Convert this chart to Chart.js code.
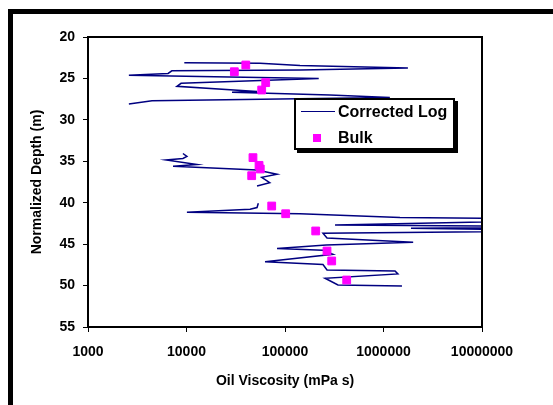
<!DOCTYPE html>
<html><head><meta charset="utf-8">
<script src="https://cdn.jsdelivr.net/npm/chart.js@4.4.1/dist/chart.umd.min.js"></script>
<style>
html,body{margin:0;padding:0;background:#fff;}
#wrap{position:relative;width:553px;height:405px;overflow:hidden;}
#c{position:absolute;left:0;top:0;}
#legend{position:absolute;left:294px;top:98px;width:161px;height:52px;box-sizing:border-box;border:2px solid #000;box-shadow:3px 3px 0 #000;background:#fff;font:bold 16px "Liberation Sans", Arial, sans-serif;color:#000;}
.lg-item{position:absolute;left:0;right:0;height:20px;}
.lg-sym{position:absolute;}
.lg-text{position:absolute;left:42px;top:0;line-height:20px;white-space:nowrap;}
</style></head>
<body>
<div id="wrap">
<canvas id="c" width="553" height="405"></canvas>
<div id="legend"></div>
</div>
<script>
// ---- Data ----
const xTicks = [1000, 10000, 100000, 1000000, 10000000];
const yTicks = [20, 25, 30, 35, 40, 45, 50, 55];

const bulkVisc  = [40000, 30600, 63700, 58000, 47300, 54500, 56100, 45900, 73300, 101600, 205000, 267000, 298000, 423000];
const bulkDepth = [23.38, 24.19, 25.51, 26.40, 34.56, 35.49, 35.93, 36.74, 40.40, 41.33, 43.41, 45.83, 47.03, 49.33];

const logVisc = [
  9500, 55700, 142000, 1770000, 142000, 7100, 6500, 2600, 13700, 220000, 8800, 8000, 52000, 29000, 286000, 1160000, 4470, 2600,
  null,
  9200, 10100, 9200, 6200, 12800, 7300, 52000, 83000, 58000, 70000, 52000,
  null,
  53600, 52000, 44200, 10100, 142000, 1470000, 150000000, 322000, 150000000, 1900000, 150000000, 243000, 267000, 2000000, 262000, 83000, 243000, 307000, 62700, 243000, 267000, 1310000, 1400000, 255000, 345000, 1540000
];
const logDepth = [
  23.10, 23.17, 23.44, 23.74, 23.98, 24.08, 24.40, 24.61, 24.77, 25.01, 25.59, 25.95, 26.58, 26.67, 27.00, 27.30, 27.69, 28.09,
  null,
  34.06, 34.42, 34.66, 34.84, 35.39, 35.60, 36.05, 36.57, 36.93, 37.58, 37.98,
  null,
  40.07, 40.58, 40.80, 41.16, 41.34, 41.78, 42.02, 42.69, 42.93, 43.09, 43.35, 43.69, 44.26, 44.78, 45.10, 45.53, 45.74, 46.22, 47.12, 47.46, 48.12, 48.24, 48.60, 49.12, 49.93, 50.05
];

const seriesNames = ['Corrected Log', 'Bulk'];
const logColor = '#000080';
const bulkColor = '#ff00ff';
const FONT = '"Liberation Sans", Arial, sans-serif';

const framePlugin = {
  id: 'frame',
  beforeDraw(chart) {
    const c = chart.ctx;
    c.save();
    c.fillStyle = '#fff';
    c.fillRect(0, 0, chart.width, chart.height);
    c.fillStyle = '#000';
    c.fillRect(8, 9, 5, chart.height - 9);
    c.fillRect(8, 9, chart.width - 8, 5);
    c.restore();
  },
  afterDatasetsDraw(chart) {
    const a = chart.chartArea, c = chart.ctx;
    c.save();
    c.strokeStyle = '#000';
    c.lineWidth = 2;
    c.strokeRect(a.left, a.top, a.right - a.left, a.bottom - a.top);
    c.restore();
  }
};

const chart = new Chart(document.getElementById('c'), {
  type: 'scatter',
  data: {
    datasets: [
      {
        label: seriesNames[0],
        data: logVisc.map((v, i) => ({ x: v, y: logDepth[i] })),
        showLine: true,
        borderColor: logColor,
        borderWidth: 1.5,
        pointRadius: 0,
        pointHoverRadius: 0,
        tension: 0,
        spanGaps: false,
        order: 2
      },
      {
        label: seriesNames[1],
        data: bulkVisc.map((v, i) => ({ x: v, y: bulkDepth[i] })),
        showLine: false,
        pointStyle: 'rect',
        pointRadius: 5.5,
        backgroundColor: bulkColor,
        borderColor: bulkColor,
        borderWidth: 1,
        order: 1
      }
    ]
  },
  options: {
    responsive: false,
    devicePixelRatio: 1,
    animation: false,
    events: [],
    layout: { padding: { left: 14, top: 37, right: 71, bottom: 10 } },
    plugins: { legend: { display: false }, tooltip: { enabled: false } },
    scales: {
      x: {
        type: 'logarithmic',
        min: 1000, max: 10000000,
        afterBuildTicks: s => { s.ticks = xTicks.map(v => ({ value: v })); },
        afterFit: s => { s.height = 68; },
        border: { display: false },
        grid: { drawOnChartArea: false, drawTicks: true, tickLength: 5, color: '#000', lineWidth: 1 },
        ticks: { color: '#000', font: { family: FONT, size: 14, weight: 'bold' }, padding: 12, maxRotation: 0, autoSkip: false, callback: v => String(v) },
        title: { display: true, text: 'Oil Viscosity (mPa s)', color: '#000', font: { family: FONT, size: 14, weight: 'bold' }, padding: { top: 0, bottom: 5 } }
      },
      y: {
        type: 'linear',
        reverse: true,
        min: 20, max: 55,
        afterBuildTicks: s => { s.ticks = yTicks.map(v => ({ value: v })); },
        afterFit: s => { s.width = 74; },
        border: { display: false },
        grid: { drawOnChartArea: false, drawTicks: true, tickLength: 5, color: '#000', lineWidth: 1 },
        ticks: { color: '#000', font: { family: FONT, size: 14, weight: 'bold' }, padding: 8, autoSkip: false, callback: v => String(v) },
        title: { display: true, text: 'Normalized Depth (m)', color: '#000', font: { family: FONT, size: 14, weight: 'bold' }, padding: { top: 15, bottom: 0 } }
      }
    }
  },
  plugins: [framePlugin]
});

// HTML legend built from the chart's datasets
const lg = document.getElementById('legend');
chart.data.datasets.forEach((ds, i) => {
  const item = document.createElement('div');
  item.className = 'lg-item';
  item.style.top = (i === 0 ? 2 : 28) + 'px';
  const sym = document.createElement('div');
  sym.className = 'lg-sym';
  if (ds.showLine) {
    Object.assign(sym.style, { left: '5px', top: '9px', width: '34px', height: '0', borderTop: '1.5px solid ' + ds.borderColor });
  } else {
    Object.assign(sym.style, { left: '17px', top: '6px', width: '8px', height: '8px', background: ds.backgroundColor });
  }
  const txt = document.createElement('div');
  txt.className = 'lg-text';
  txt.textContent = ds.label;
  item.appendChild(sym);
  item.appendChild(txt);
  lg.appendChild(item);
});
</script>
</body></html>
